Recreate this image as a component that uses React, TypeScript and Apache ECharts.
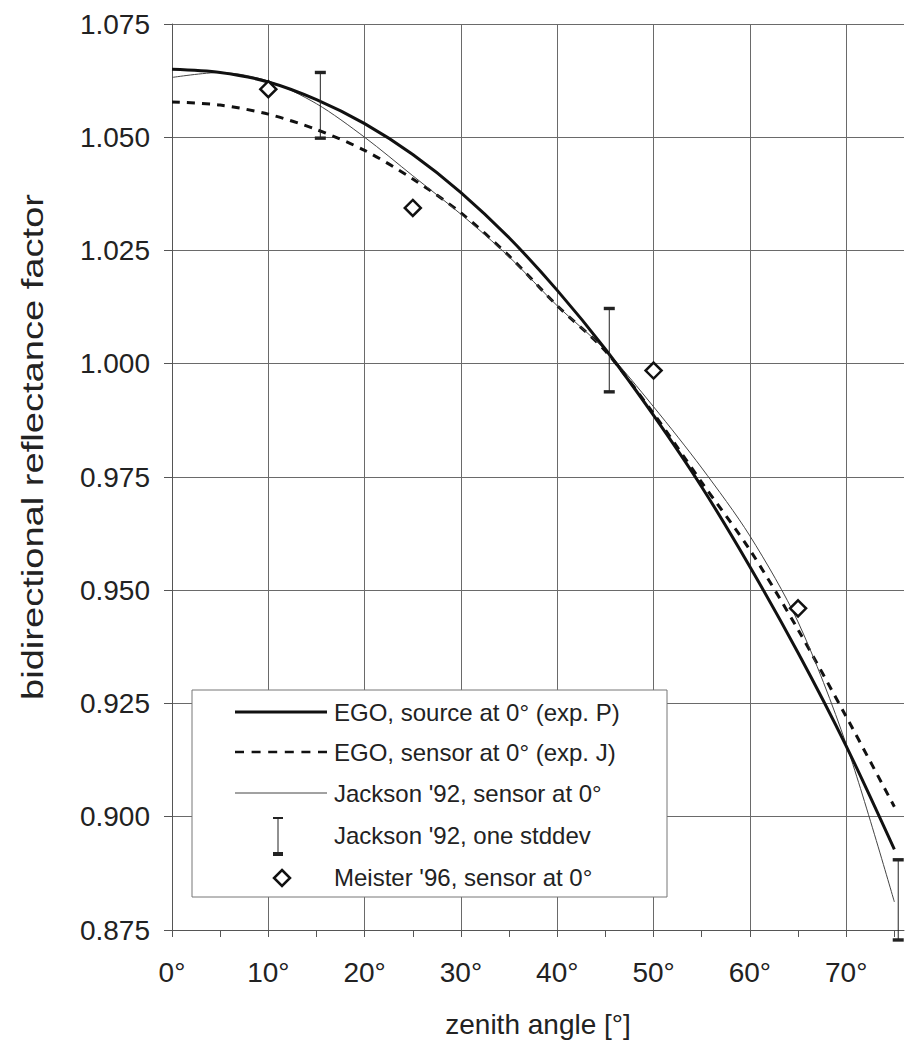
import React, { useEffect, useRef } from "react";
import * as echarts from "echarts";

const angles = [0, 5, 10, 15, 20, 25, 30, 35, 40, 45, 50, 55, 60, 65, 70, 75];
const egoSource = [1.065, 1.0643, 1.0622, 1.0583, 1.053, 1.0462, 1.0378, 1.0278, 1.0162, 1.0032, 0.9886, 0.9728, 0.9552, 0.9362, 0.9156, 0.8928];
const egoSensor = [1.0578, 1.0571, 1.0551, 1.0517, 1.0471, 1.0408, 1.0333, 1.0238, 1.0128, 1.0028, 0.989, 0.9738, 0.9589, 0.9413, 0.9221, 0.9022];
const jackson = [1.0632, 1.0643, 1.0624, 1.0574, 1.05, 1.0415, 1.033, 1.0236, 1.0128, 1.003, 0.9905, 0.977, 0.962, 0.943, 0.916, 0.8812];

const errAngles = [15.4, 45.4, 75.4];
const errLow = [1.0498, 0.9938, 0.8728];
const errHigh = [1.0643, 1.0122, 0.8905];

const meisterAngles = [10, 25, 50, 65];
const meisterValues = [1.0606, 1.0344, 0.9985, 0.946];

const yTicks = { min: 0.875, max: 1.075, step: 0.025 };
const xTicks = { min: 0, max: 76, step: 5 };

const legendLabels = [
  "EGO, source at 0\u00b0 (exp. P)",
  "EGO, sensor at 0\u00b0 (exp. J)",
  "Jackson '92, sensor at 0\u00b0",
  "Jackson '92, one stddev",
  "Meister '96, sensor at 0\u00b0",
];

const FONT = "'Liberation Sans', Arial, Helvetica, sans-serif";
const TXT = "#222";

export default function App() {
  const ref = useRef<HTMLDivElement>(null);
  useEffect(() => {
    if (!ref.current) return;
    const chart = echarts.init(ref.current, null, { renderer: "svg" });
    const pair = (xs: number[], ys: number[]) => xs.map((x, i) => [x, ys[i]]);

    const rowY = [712, 752, 793, 835, 877];
    const lx0 = 235, lx1 = 327, tx = 334;
    const legendGraphics: any[] = [
      { type: "rect", shape: { x: 192, y: 690, width: 475, height: 207 }, style: { fill: "#fff", stroke: "#777", lineWidth: 1 }, z: 50 },
      { type: "line", shape: { x1: lx0, y1: rowY[0], x2: lx1, y2: rowY[0] }, style: { stroke: "#111", lineWidth: 3 }, z: 51 },
      { type: "line", shape: { x1: lx0, y1: rowY[1], x2: lx1, y2: rowY[1] }, style: { stroke: "#111", lineWidth: 2.5, lineDash: [9, 7.6] }, z: 51 },
      { type: "line", shape: { x1: lx0, y1: rowY[2], x2: lx1, y2: rowY[2] }, style: { stroke: "#444", lineWidth: 1 }, z: 51 },
      { type: "line", shape: { x1: 278, y1: 818, x2: 278, y2: 854 }, style: { stroke: "#222", lineWidth: 1 }, z: 51 },
      { type: "rect", shape: { x: 273, y: 817, width: 10, height: 2 }, style: { fill: "#222" }, z: 51 },
      { type: "rect", shape: { x: 273, y: 852, width: 10, height: 4 }, style: { fill: "#222" }, z: 51 },
      { type: "polygon", shape: { points: [[282, 870], [290, 878], [282, 886], [274, 878]] }, style: { fill: "#fff", stroke: "#111", lineWidth: 2.5 }, z: 51 },
      ...legendLabels.map((t, i) => ({
        type: "text", x: tx, y: rowY[i], z: 52,
        style: { text: t, fontSize: 24, fontFamily: FONT, fill: TXT, textAlign: "left", textVerticalAlign: "middle" },
      })),
      {
        type: "text", x: 33, y: 447, rotation: Math.PI / 2, scaleX: 1.27, z: 52,
        style: { text: "bidirectional reflectance factor", fontSize: 30, fontFamily: FONT, fill: TXT, textAlign: "center", textVerticalAlign: "middle" },
      },
    ];

    chart.setOption({
      animation: false,
      backgroundColor: "#fff",
      grid: { left: 172, right: 6, top: 24, bottom: 117 },
      xAxis: {
        type: "value",
        min: xTicks.min,
        max: xTicks.max,
        interval: xTicks.step,
        name: "zenith angle [\u00b0]",
        nameLocation: "middle",
        nameGap: 80,
        nameTextStyle: { fontSize: 28, fontFamily: FONT, color: TXT },
        axisLine: { show: true, lineStyle: { color: "#555", width: 1 } },
        axisTick: { show: true, length: 7, lineStyle: { color: "#555" } },
        axisLabel: {
          fontSize: 28, fontFamily: FONT, color: TXT, margin: 28,
          showMaxLabel: false,
          formatter: (v: number) => (v % 10 === 0 ? v + "\u00b0" : ""),
        },
        splitLine: { show: true, showMaxLine: false, lineStyle: { color: ["#6a6a6a", "transparent"], width: 1 } },
      },
      yAxis: {
        type: "value",
        min: yTicks.min,
        max: yTicks.max,
        interval: yTicks.step,
        axisLine: { show: true, lineStyle: { color: "#555", width: 1 } },
        axisTick: { show: true, length: 8, lineStyle: { color: "#555" } },
        axisLabel: { fontSize: 28, fontFamily: FONT, color: TXT, margin: 22, formatter: (v: number) => v.toFixed(3) },
        splitLine: { show: true, lineStyle: { color: "#6a6a6a", width: 1 } },
      },
      series: [
        {
          type: "line", name: legendLabels[0], data: pair(angles, egoSource), smooth: 0.3, showSymbol: false,
          lineStyle: { color: "#111", width: 3 }, z: 4,
        },
        {
          type: "line", name: legendLabels[1], data: pair(angles, egoSensor), smooth: 0.3, showSymbol: false,
          lineStyle: { color: "#111", width: 3, type: [8, 7] }, z: 3,
        },
        {
          type: "line", name: legendLabels[2], data: pair(angles, jackson), smooth: 0.3, showSymbol: false,
          lineStyle: { color: "#444", width: 1 }, z: 3,
        },
        {
          type: "custom", name: legendLabels[3], clip: false, z: 5,
          data: errAngles.map((x, i) => [x, errLow[i], errHigh[i]]),
          encode: { x: 0, y: [1, 2] },
          renderItem: (params: any, api: any) => {
            const x = api.value(0);
            const pHi = api.coord([x, api.value(2)]);
            const pLo = api.coord([x, api.value(1)]);
            return {
              type: "group",
              children: [
                { type: "line", shape: { x1: pHi[0], y1: pHi[1], x2: pLo[0], y2: pLo[1] }, style: { stroke: "#222", lineWidth: 1 } },
                { type: "rect", shape: { x: pHi[0] - 5.5, y: pHi[1] - 1.7, width: 11, height: 3.4 }, style: { fill: "#222" } },
                { type: "rect", shape: { x: pLo[0] - 5.5, y: pLo[1] - 1.7, width: 11, height: 3.4 }, style: { fill: "#222" } },
              ],
            };
          },
        },
        {
          type: "scatter", name: legendLabels[4], data: pair(meisterAngles, meisterValues),
          symbol: "diamond", symbolSize: 16, z: 6,
          itemStyle: { color: "#fff", borderColor: "#111", borderWidth: 2.5, opacity: 1 },
        },
      ],
      graphic: legendGraphics,
    });
    return () => chart.dispose();
  }, []);
  return <div ref={ref} style={{ position: "absolute", left: 0, top: 0, width: 910, height: 1047 }} />;
}
